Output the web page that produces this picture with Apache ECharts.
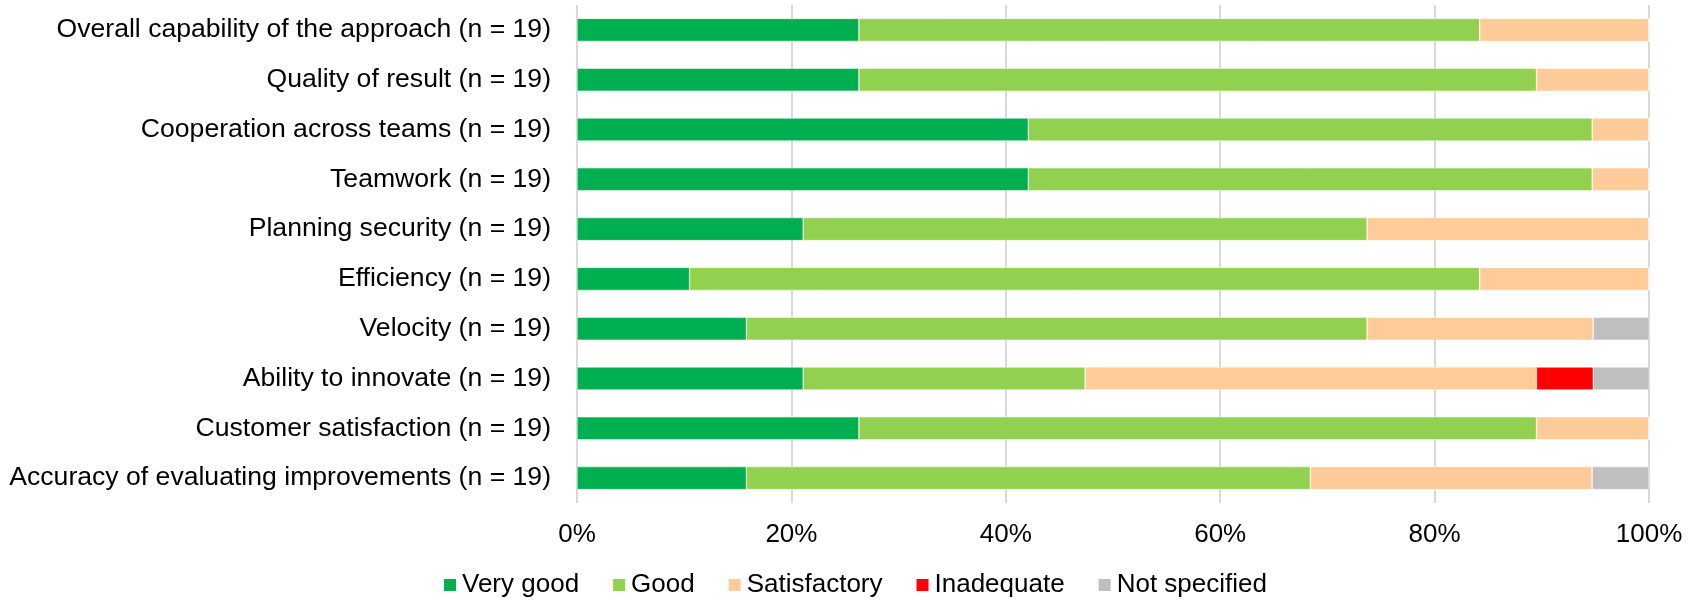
<!DOCTYPE html>
<html>
<head>
    <meta charset="utf-8">
    <title>Evaluation chart</title>
    <script src="https://cdn.jsdelivr.net/npm/echarts@6/dist/echarts.min.js"></script>
    <style>
        html, body { margin: 0; padding: 0; background: #fff; }
        #chart { width: 1702px; height: 600px; }
    </style>
</head>
<body>
    <div id="chart"></div>
    <script>
        // categories, top to bottom
        var categories = [
            'Overall capability of the approach (n = 19)',
            'Quality of result (n = 19)',
            'Cooperation across teams (n = 19)',
            'Teamwork (n = 19)',
            'Planning security (n = 19)',
            'Efficiency (n = 19)',
            'Velocity (n = 19)',
            'Ability to innovate (n = 19)',
            'Customer satisfaction (n = 19)',
            'Accuracy of evaluating improvements (n = 19)'
        ];
        // shares in percent
        var veryGood     = [26.3, 26.3, 42.1, 42.1, 21.1, 10.5, 15.8, 21.1, 26.3, 15.8];
        var good         = [57.9, 63.2, 52.6, 52.6, 52.6, 73.7, 57.9, 26.3, 63.2, 52.6];
        var satisfactory = [15.8, 10.5, 5.3, 5.3, 26.3, 15.8, 21.1, 42.1, 10.5, 26.3];
        var inadequate   = [0, 0, 0, 0, 0, 0, 0, 5.3, 0, 0];
        var notSpecified = [0, 0, 0, 0, 0, 0, 5.3, 5.3, 0, 5.3];
        var xTicks = [0, 20, 40, 60, 80, 100];

        var seriesNames = ['Very good', 'Good', 'Satisfactory', 'Inadequate', 'Not specified'];
        var seriesData = [veryGood, good, satisfactory, inadequate, notSpecified];
        var colors = ['#00b050', '#92d050', '#ffcc99', '#ff0000', '#bfbfbf'];

        var font = 'Liberation Sans, Arial, sans-serif';
        var fs = 26;
        var chart = echarts.init(document.getElementById('chart'));

        var option = {
            animation: false,
            color: colors,
            textStyle: { fontFamily: font },
            grid: { left: 577, right: 53, top: 5, bottom: 97 },
            legend: {
                data: seriesNames,
                top: 572,
                left: 442,
                padding: 0,
                itemWidth: 14,
                itemHeight: 14,
                itemGap: 32,
                icon: 'rect',
                textStyle: { fontFamily: font, fontSize: fs, color: '#000' }
            },
            xAxis: {
                type: 'value',
                min: xTicks[0],
                max: xTicks[xTicks.length - 1],
                interval: xTicks[1] - xTicks[0],
                axisLine: { show: false },
                axisTick: { show: false },
                splitLine: { lineStyle: { color: '#d9d9d9', width: 2 } },
                axisLabel: {
                    formatter: '{value}%',
                    fontFamily: font,
                    fontSize: fs,
                    color: '#000',
                    margin: 19
                }
            },
            yAxis: {
                type: 'category',
                inverse: true,
                data: categories,
                axisLine: { show: false },
                axisTick: { show: false },
                axisLabel: {
                    fontFamily: font,
                    fontSize: 26.6,
                    color: '#000',
                    margin: 26
                }
            },
            series: seriesNames.map(function (name, i) {
                return {
                    name: name,
                    type: 'bar',
                    stack: 'total',
                    barWidth: 23,
                    data: seriesData[i],
                    itemStyle: { borderColor: '#fff', borderWidth: 0.5 }
                };
            })
        };
        chart.setOption(option);
    </script>
</body>
</html>
